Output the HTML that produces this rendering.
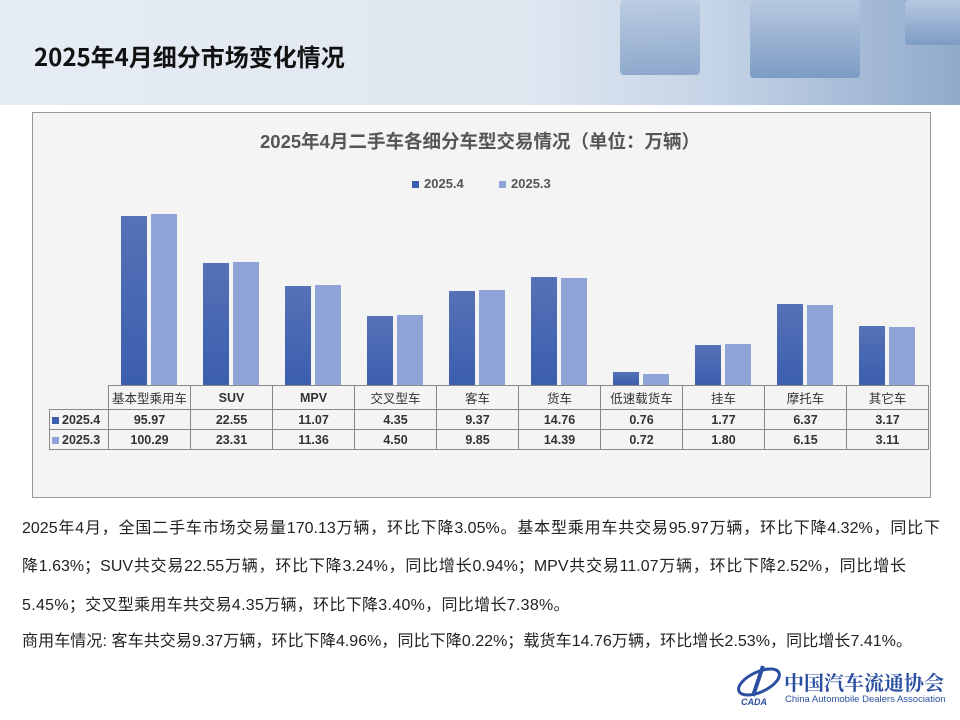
<!DOCTYPE html>
<html><head><meta charset="utf-8"><style>
body{margin:0;width:960px;height:720px;position:relative;background:#fff;overflow:hidden;font-family:"Liberation Sans","Noto Sans CJK SC",sans-serif}
.hdr{position:absolute;left:0;top:0;width:960px;height:105px;background:linear-gradient(90deg,#e6ecf4 0%,#dfe7f1 55%,#c4d3e6 75%,#90aacb 100%)}
.cube{position:absolute;background:linear-gradient(180deg,#b7c9e0,#7d9cc4);border-radius:4px}
.title{position:absolute;left:34px;top:38px;font-size:24px;font-weight:bold;color:#111;font-family:"Noto Sans CJK SC",sans-serif}
.box{position:absolute;left:32px;top:112px;width:897px;height:384px;background:#f4f4f4;border:1px solid #999}
.ct{position:absolute;left:0;width:960px;top:128px;text-align:center;font-size:18.5px;font-weight:bold;color:#555}
.lg{position:absolute;top:176px;font-size:13px;font-weight:bold;color:#555}
.lg i{display:inline-block;width:7px;height:7px;margin-right:5px}
.b{position:absolute;width:26px}
.d{background:linear-gradient(180deg,#5572b6,#3b5eae)}
.l{background:#8fa3d6}
table{position:absolute;left:49px;top:385px;border-collapse:collapse;font-size:12.5px;color:#333}
td{border:1px solid #888;height:19px;padding:0;text-align:center;width:81px;font-weight:bold}
td.c{font-weight:normal}
td.h{width:56px;text-align:left;padding-left:2px}
.p{position:absolute;left:22px;font-size:16px;color:#222;white-space:nowrap}
.j{text-align:justify;text-align-last:justify;white-space:normal}
</style></head><body>
<div class="hdr"></div>
<div class="cube" style="left:620px;top:0;width:80px;height:75px;opacity:.8"></div>
<div class="cube" style="left:750px;top:0;width:110px;height:78px"></div>
<div class="cube" style="left:905px;top:0;width:60px;height:45px"></div>
<div class="title">2025年4月细分市场变化情况</div>
<div class="box"></div>
<div class="ct">2025年4月二手车各细分车型交易情况（单位：万辆）</div>
<div class="lg" style="left:412px"><i style="background:#3b5eae"></i>2025.4</div>
<div class="lg" style="left:499px"><i style="background:#8fa3d6"></i>2025.3</div>
<div class="b d" style="left:121px;top:216px;height:169px"></div><div class="b l" style="left:151px;top:214px;height:171px"></div>
<div class="b d" style="left:203px;top:263px;height:122px"></div><div class="b l" style="left:233px;top:262px;height:123px"></div>
<div class="b d" style="left:285px;top:286px;height:99px"></div><div class="b l" style="left:315px;top:285px;height:100px"></div>
<div class="b d" style="left:367px;top:316px;height:69px"></div><div class="b l" style="left:397px;top:315px;height:70px"></div>
<div class="b d" style="left:449px;top:291px;height:94px"></div><div class="b l" style="left:479px;top:290px;height:95px"></div>
<div class="b d" style="left:531px;top:277px;height:108px"></div><div class="b l" style="left:561px;top:278px;height:107px"></div>
<div class="b d" style="left:613px;top:372px;height:13px"></div><div class="b l" style="left:643px;top:374px;height:11px"></div>
<div class="b d" style="left:695px;top:345px;height:40px"></div><div class="b l" style="left:725px;top:344px;height:41px"></div>
<div class="b d" style="left:777px;top:304px;height:81px"></div><div class="b l" style="left:807px;top:305px;height:80px"></div>
<div class="b d" style="left:859px;top:326px;height:59px"></div><div class="b l" style="left:889px;top:327px;height:58px"></div>
<table>
<tr style="height:24px"><td class="h" style="border-top:none;border-left:none;border-bottom:1px solid #888"></td><td class="c">基本型乘用车</td><td>SUV</td><td>MPV</td><td class="c">交叉型车</td><td class="c">客车</td><td class="c">货车</td><td class="c">低速载货车</td><td class="c">挂车</td><td class="c">摩托车</td><td class="c">其它车</td></tr>
<tr><td class="h"><span style="display:inline-block;width:7px;height:7px;background:#3b5eae;margin-right:3px"></span>2025.4</td><td>95.97</td><td>22.55</td><td>11.07</td><td>4.35</td><td>9.37</td><td>14.76</td><td>0.76</td><td>1.77</td><td>6.37</td><td>3.17</td></tr>
<tr><td class="h"><span style="display:inline-block;width:7px;height:7px;background:#8fa3d6;margin-right:3px"></span>2025.3</td><td>100.29</td><td>23.31</td><td>11.36</td><td>4.50</td><td>9.85</td><td>14.39</td><td>0.72</td><td>1.80</td><td>6.15</td><td>3.11</td></tr>
</table>
<div class="p j" style="top:514px;width:918px">2025年4月，全国二手车市场交易量170.13万辆，环比下降3.05%。基本型乘用车共交易95.97万辆，环比下降4.32%，同比下</div>
<div class="p j" style="top:552px;width:884px">降1.63%；SUV共交易22.55万辆，环比下降3.24%，同比增长0.94%；MPV共交易11.07万辆，环比下降2.52%，同比增长</div>
<div class="p" style="top:591px;letter-spacing:0.3px">5.45%；交叉型乘用车共交易4.35万辆，环比下降3.40%，同比增长7.38%。</div>
<div class="p j" style="top:627px;width:890px">商用车情况: 客车共交易9.37万辆，环比下降4.96%，同比下降0.22%；载货车14.76万辆，环比增长2.53%，同比增长7.41%。</div>
<svg style="position:absolute;left:735px;top:662px" width="50" height="45"><ellipse cx="24" cy="20" rx="22" ry="10" fill="none" stroke="#2a4fa0" stroke-width="3" transform="rotate(-25 24 20)"/><path d="M28 4 L18 34" stroke="#2a4fa0" stroke-width="4"/><text x="6" y="43" font-size="9" font-style="italic" font-weight="bold" fill="#2a4fa0">CADA</text></svg>
<div style="position:absolute;left:784px;top:667px;font-size:20px;color:#2a4fa0;font-family:'Noto Serif CJK SC',serif;font-weight:bold;white-space:nowrap">中国汽车流通协会</div>
<div style="position:absolute;left:785px;top:694px;font-size:9.5px;color:#2a4fa0;white-space:nowrap">China Automobile Dealers Association</div>
</body></html>
